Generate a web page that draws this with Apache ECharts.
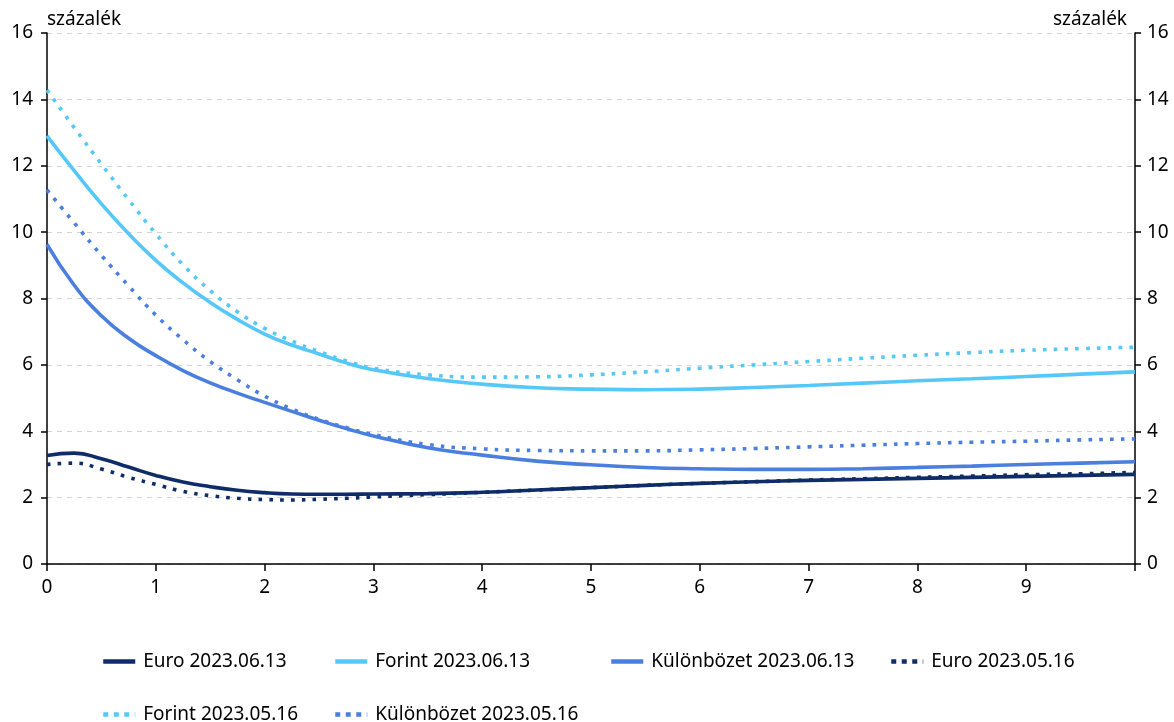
<!DOCTYPE html>
<html>
<head>
<meta charset="utf-8">
<script src="https://cdn.jsdelivr.net/npm/echarts@6/dist/echarts.min.js"></script>
<style>
  html, body { margin: 0; padding: 0; background: #fff; }
  #chart { width: 1174px; height: 722px; }
</style>
</head>
<body>
<div id="chart"></div>
<script>
// futamidő (év)
const maturity = [0, 0.25, 0.5, 0.75, 1, 1.25, 1.5, 1.75, 2, 2.25, 2.5, 2.75, 3, 3.5, 4, 4.5, 5, 5.5, 6, 6.5, 7, 7.5, 8, 8.5, 9, 9.5, 10]

const euroJun = [3.27, 3.34, 3.17, 2.92, 2.67, 2.47, 2.33, 2.22, 2.15, 2.11, 2.10, 2.10, 2.11, 2.12, 2.16, 2.23, 2.30, 2.37, 2.43, 2.48, 2.52, 2.55, 2.58, 2.61, 2.64, 2.67, 2.70]
const forintJun = [12.9, 11.85, 10.85, 9.95, 9.15, 8.47, 7.88, 7.37, 6.93, 6.6, 6.33, 6.06, 5.85, 5.59, 5.42, 5.31, 5.27, 5.25, 5.27, 5.32, 5.38, 5.45, 5.52, 5.58, 5.65, 5.72, 5.79]
const kulonJun = [9.63, 8.4, 7.48, 6.8, 6.28, 5.83, 5.46, 5.15, 4.87, 4.6, 4.33, 4.08, 3.86, 3.5, 3.28, 3.1, 2.99, 2.91, 2.87, 2.85, 2.85, 2.87, 2.91, 2.95, 3.0, 3.04, 3.08]
const euroMay = [3.0, 3.04, 2.86, 2.61, 2.40, 2.19, 2.06, 1.98, 1.94, 1.93, 1.95, 1.98, 2.02, 2.09, 2.16, 2.23, 2.30, 2.37, 2.43, 2.48, 2.53, 2.57, 2.61, 2.65, 2.69, 2.72, 2.76]
const forintMay = [14.28, 13.15, 12.05, 10.98, 9.95, 9.02, 8.24, 7.6, 7.1, 6.72, 6.4, 6.12, 5.9, 5.7, 5.63, 5.64, 5.7, 5.79, 5.9, 6.0, 6.1, 6.2, 6.29, 6.37, 6.44, 6.49, 6.53]
const kulonMay = [11.27, 10.28, 9.3, 8.38, 7.5, 6.76, 6.1, 5.55, 5.06, 4.67, 4.36, 4.11, 3.9, 3.6, 3.47, 3.42, 3.41, 3.41, 3.44, 3.48, 3.53, 3.58, 3.63, 3.67, 3.70, 3.74, 3.77]

const names = ['Euro 2023.06.13', 'Forint 2023.06.13', 'Különbözet 2023.06.13', 'Euro 2023.05.16', 'Forint 2023.05.16', 'Különbözet 2023.05.16']
const yTicks = [0, 16, 2]   // min, max, lépésköz

const NAVY = '#0e2d68'
const LIGHT = '#55c8f8'
const MID = '#4a7fdf'
const FONT = 'Noto Sans'
const FS = 19

const chart = echarts.init(document.getElementById('chart'))

function pairs (ys) {
  return maturity.map((t, i) => [t, ys[i]])
}

function line (name, ys, color, dotted) {
  return {
    name: name,
    type: 'line',
    data: pairs(ys),
    smooth: true,
    symbol: 'none',
    yAxisIndex: 0,
    lineStyle: {
      color: color,
      width: 3.6,
      type: dotted ? [3.6, 7.2] : 'solid',
      cap: 'butt'
    },
    itemStyle: { color: color }
  }
}

// legend positions (Excel-szerű elrendezés)
const legendPos = [[96, 647], [328, 647], [604, 647], [884, 647], [96, 700], [328, 700]]
const legends = names.map((n, i) => ({
  data: [n],
  left: legendPos[i][0],
  top: legendPos[i][1],
  itemWidth: 32,
  itemHeight: 14,
  itemGap: 8,
  itemStyle: { opacity: 0 },
  lineStyle: { width: 4.5, type: i >= 3 ? [5, 5.5] : 'solid', cap: 'butt' },
  textStyle: { fontFamily: FONT, fontSize: FS, color: '#000', padding: [0, 0, 0, 3] }
}))

const option = {
  animation: false,
  backgroundColor: '#fff',
  grid: { left: 47, right: 39, top: 33, bottom: 158 },
  legend: legends,
  xAxis: {
    type: 'value',
    min: 0,
    max: 10,
    interval: 1,
    axisLine: { lineStyle: { color: '#000', width: 1.5 } },
    axisTick: { show: true, length: 7, lineStyle: { color: '#000', width: 1.5 } },
    axisLabel: {
      fontFamily: FONT, fontSize: FS, color: '#000', margin: 14,
      formatter: v => (v >= 10 ? '' : String(v))
    },
    splitLine: { show: false }
  },
  yAxis: [
    {
      type: 'value',
      position: 'left',
      min: yTicks[0], max: yTicks[1], interval: yTicks[2],
      name: 'százalék',
      nameLocation: 'end',
      nameGap: 4,
      nameTextStyle: { fontFamily: FONT, fontSize: FS, color: '#000', align: 'left' },
      axisLine: { show: true, lineStyle: { color: '#000', width: 1.5 } },
      axisTick: { show: true, length: 6, lineStyle: { color: '#000', width: 1.5 } },
      axisLabel: { fontFamily: FONT, fontSize: FS, color: '#000', margin: 14 },
      splitLine: { show: true, lineStyle: { color: '#d4d4d4', type: [5, 5], width: 1 } }
    },
    {
      type: 'value',
      position: 'right',
      min: yTicks[0], max: yTicks[1], interval: yTicks[2],
      name: 'százalék',
      nameLocation: 'end',
      nameGap: 4,
      nameTextStyle: { fontFamily: FONT, fontSize: FS, color: '#000', align: 'right', padding: [0, 8, 0, 0] },
      axisLine: { show: true, lineStyle: { color: '#000', width: 1.5 } },
      axisTick: { show: true, length: 6, lineStyle: { color: '#000', width: 1.5 } },
      axisLabel: { fontFamily: FONT, fontSize: FS, color: '#000', margin: 12 },
      splitLine: { show: false }
    }
  ],
  series: [
    line(names[0], euroJun, NAVY, false),
    line(names[1], forintJun, LIGHT, false),
    line(names[2], kulonJun, MID, false),
    line(names[3], euroMay, NAVY, true),
    line(names[4], forintMay, LIGHT, true),
    line(names[5], kulonMay, MID, true)
  ]
}

chart.setOption(option)
</script>
</body>
</html>
